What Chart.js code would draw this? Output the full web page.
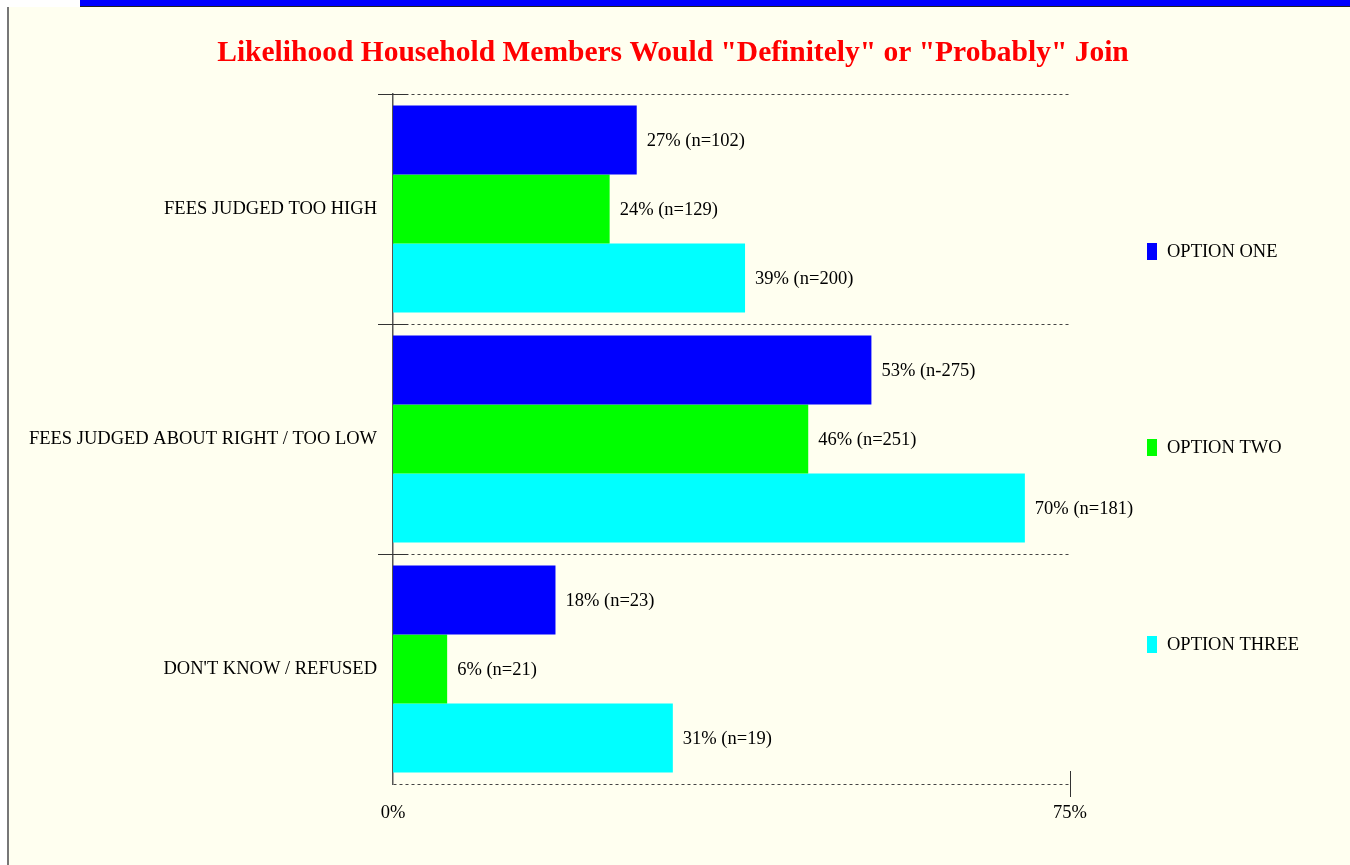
<!DOCTYPE html>
<html>
<head>
<meta charset="utf-8">
<title>Likelihood Household Members Would Join</title>
<script src="https://cdn.jsdelivr.net/npm/chart.js@4.4.1/dist/chart.umd.min.js"></script>
<style>
  html, body { margin: 0; padding: 0; width: 1350px; height: 865px; overflow: hidden; background: #ffffff; }
  #strip { position: absolute; left: 80px; top: 0; width: 1270px; height: 6px; background: #0000ff; border-bottom: 1px solid #222; }
  #panel { position: absolute; left: 7px; top: 7px; width: 1343px; height: 858px; background: #fffff0; border-left: 2px solid #777; box-sizing: border-box; }
  #wrap { position: absolute; left: 0; top: 0; width: 1350px; height: 865px; }
</style>
</head>
<body>
<div id="strip"></div>
<div id="panel"></div>
<div id="wrap"><canvas id="chart" width="1350" height="865"></canvas></div>
<script>
// Survey groups and results per pricing option
const categories = ["FEES JUDGED TOO HIGH", "FEES JUDGED ABOUT RIGHT / TOO LOW", "DON'T KNOW / REFUSED"];
const seriesNames = ["OPTION ONE", "OPTION TWO", "OPTION THREE"];
const optionOne = [27, 53, 18];
const optionTwo = [24, 46, 6];
const optionThree = [39, 70, 31];
const sampleOne = ["n=102", "n-275", "n=23"];
const sampleTwo = ["n=129", "n=251", "n=21"];
const sampleThree = ["n=200", "n=181", "n=19"];
const axisTicks = [0, 75];
const titleText = 'Likelihood Household Members Would "Definitely" or "Probably" Join';

const colors = ["#0000ff", "#00ff00", "#00ffff"];
const serif = '"Liberation Serif", "Times New Roman", serif';
const textSize = 18.5;

const samples = [sampleOne, sampleTwo, sampleThree];

// Title, value labels, legend and axis decorations
const decorations = {
  id: 'decorations',
  afterDatasetsDraw(chart) {
    const ctx = chart.ctx;
    const xs = chart.scales.x, ys = chart.scales.y;
    ctx.save();

    // title
    ctx.fillStyle = '#ff0000';
    ctx.font = 'bold 29.5px ' + serif;
    ctx.textAlign = 'center';
    ctx.textBaseline = 'middle';
    ctx.fillText(titleText, 673, 53);

    // value labels at bar ends
    ctx.fillStyle = '#000';
    ctx.font = textSize + 'px ' + serif;
    ctx.textAlign = 'left';
    chart.data.datasets.forEach((ds, di) => {
      const meta = chart.getDatasetMeta(di);
      meta.data.forEach((bar, i) => {
        ctx.fillText(ds.data[i] + '% (' + samples[di][i] + ')', bar.x + 10, bar.y + 1);
      });
    });

    // solid marks crossing the left axis at the upper category boundaries
    ctx.strokeStyle = '#333';
    ctx.lineWidth = 1;
    const n = categories.length;
    for (let k = 0; k < n; k++) {
      const yb = Math.round(ys.getPixelForValue(k - 0.5)) + 0.5;
      ctx.beginPath();
      ctx.moveTo(xs.left - 15, yb);
      ctx.lineTo(xs.left + 15, yb);
      ctx.stroke();
    }

    // tick at the end of the value axis
    const xe = Math.round(xs.getPixelForValue(axisTicks[axisTicks.length - 1])) + 0.5;
    ctx.beginPath();
    ctx.moveTo(xe, ys.bottom - 13);
    ctx.lineTo(xe, ys.bottom + 13);
    ctx.stroke();

    // legend
    const legendY = [252, 448, 645];
    ctx.font = textSize + 'px ' + serif;
    chart.data.datasets.forEach((ds, di) => {
      ctx.fillStyle = ds.backgroundColor;
      ctx.fillRect(1147, legendY[di] - 9, 10, 17);
      ctx.fillStyle = '#000';
      ctx.fillText(ds.label, 1167, legendY[di]);
    });
    ctx.restore();
  }
};

new Chart(document.getElementById('chart'), {
  type: 'bar',
  data: {
    labels: categories,
    datasets: [
      { label: seriesNames[0], data: optionOne, backgroundColor: colors[0] },
      { label: seriesNames[1], data: optionTwo, backgroundColor: colors[1] },
      { label: seriesNames[2], data: optionThree, backgroundColor: colors[2] }
    ]
  },
  options: {
    indexAxis: 'y',
    responsive: false,
    animation: false,
    devicePixelRatio: 1,
    layout: { padding: { left: 0, right: 280, top: 94, bottom: 0 } },
    datasets: { bar: { categoryPercentage: 0.9, barPercentage: 1.0, borderWidth: 0 } },
    plugins: {
      legend: { display: false },
      title: { display: false },
      tooltip: { enabled: false }
    },
    scales: {
      x: {
        min: 0,
        max: 75,
        afterFit(scale) { scale.height = 81; },
        afterBuildTicks(scale) { scale.ticks = axisTicks.map(v => ({ value: v })); },
        border: { display: false },
        grid: { display: false, drawTicks: false },
        ticks: {
          padding: 18,
          color: '#000',
          font: { family: serif, size: textSize },
          callback: v => v + '%'
        }
      },
      y: {
        afterFit(scale) { scale.width = 393; },
        border: { display: true, color: '#555', width: 1.5, dash: [3, 3] },
        grid: {
          offset: true,
          color: '#444',
          lineWidth: 1,
          drawTicks: true,
          tickLength: 15,
          tickColor: 'rgba(0,0,0,0)'
        },
        ticks: {
          padding: 1,
          color: '#000',
          font: { family: serif, size: textSize }
        }
      }
    }
  },
  plugins: [decorations]
});
</script>
</body>
</html>
